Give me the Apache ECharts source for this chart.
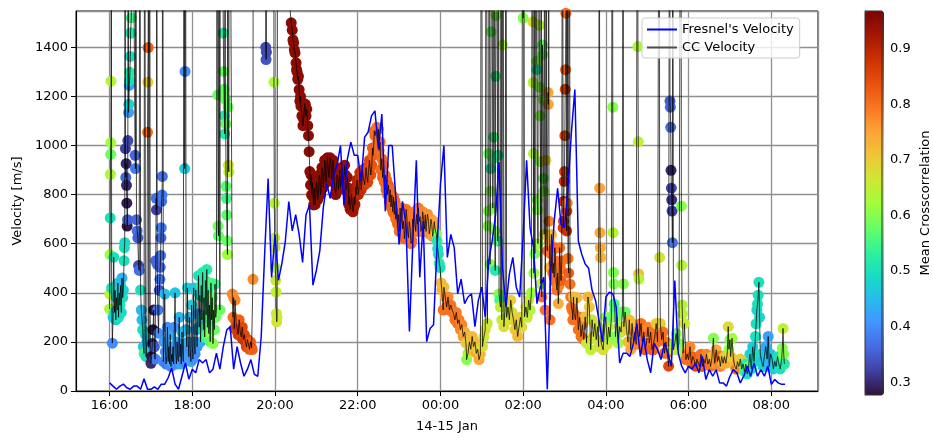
<!DOCTYPE html>
<html><head><meta charset="utf-8">
<script src="https://cdn.jsdelivr.net/npm/echarts@6/dist/echarts.min.js"></script>
<style>html,body{margin:0;padding:0;background:#fff}#c{width:933px;height:438px}</style>
</head><body><div id="c"></div>
<script>
// ---- tick labels ----
const xTickHours = [16,18,20,22,24,26,28,30,32];
const xTickLabels = ['16:00','18:00','20:00','22:00','00:00','02:00','04:00','06:00','08:00'];
const cbTicks = [0.3,0.4,0.5,0.6,0.7,0.8,0.9];

// ---- Fresnel's velocity, one value every 5 min from 16:00 ----
const fresnelStartMin = 0, fresnelStepMin = 5;
const fresnelVel = [
33,20,7,20,28,13,7,20,20,7,
50,7,7,17,7,28,28,54,94,28,
7,60,114,48,89,74,128,114,128,74,
89,154,89,181,249,262,89,181,114,60,
89,128,68,60,222,560,866,463,638,451,
520,611,772,652,718,638,524,718,758,431,
491,572,745,846,785,879,920,1000,758,946,
1014,960,960,854,1034,1054,1121,1141,987,1128,
732,1000,1000,799,597,773,678,242,611,940,
463,692,201,255,270,584,840,1000,544,638,
584,396,456,356,383,396,262,369,423,302,
530,611,718,933,503,342,477,544,423,383,
638,940,665,584,356,423,463,7,477,692,
826,678,665,826,1054,1228,611,557,517,500,
410,369,289,200,383,403,396,342,114,154,
154,141,195,275,141,222,128,74,195,168,
128,195,154,101,450,154,101,74,101,89,
114,74,141,47,87,60,87,33,33,20,
60,87,74,33,60,101,60,114,60,87,
60,101,27,47,33,27,27];

// ---- CC velocity: [minutes after 16:00, velocity, mean crosscorrelation] ----
const ccSeg1 = [
[0,334,.63],[0.3,395,.64],[0.6,556,.62],[0.9,705,.50],[1.2,883,.63],[1.5,964,.58],[1.8,1011,.62],[2.1,1262,.64],[2.4,3000,.60],
[3,420,.50],[4,195,.40],[5,300,.46],[6,545,.50],[7,320,.49],[8,410,.51],[9,290,.47],[10,380,.49],[11,330,.44],[12,440,.48],[13,300,.50],[14,400,.46],[15,350,.51],[16,430,.45],[17,320,.49],[18,460,.44],[19,380,.50],[20,410,.48],[21,531,.50],[21.5,584,.50],[22,604,.49],[22.5,3000,.50],
[23,987,.32],[23.5,870,.36],[24,926,.30],[24.5,838,.30],[25,765,.29],[25.5,672,.28],[26,698,.35],[26.5,1020,.33],[27,3000,.40],
[27.5,1135,.42],[28,1168,.48],[28.5,1245,.42],[29,1265,.50],[29.5,1298,.52],[30,1363,.50],[30.5,1458,.50],[31,1458,.52],[31.5,1520,.55],[32,3000,.50],
[37,960,.36],[37.5,906,.38],[38,3000,.40],[39,698,.36],[40,652,.37],[41,624,.35],[42,511,.33],[43,491,.37],[44,3000,.40],[45,411,.50],[46,330,.45],[47,290,.45],[48,250,.50],[49,181,.47],[50,153,.55],[51,3000,.50],
[52,230,.47],[53,140,.50],[54,200,.45],[55,1054,.80],[55.5,1258,.70],[56,1399,.82],[56.5,3000,.80],[57,180,.46],[58,3000,.50],
[59,150,.44],[60,113,.30],[61,141,.28],[62,193,.30],[63,250,.28],[64,330,.28],[65,180,.35],[66,130,.38],
[67,531,.36],[67.5,785,.37],[68,738,.32],[68.5,3000,.35],[69,516,.36],[70,330,.38],[71,235,.40],[72,410,.34],[73,455,.37],[73.5,504,.36],[74,552,.37],[74.5,624,.36],[75,665,.38],[75.5,773,.37],[76,798,.38],[76.5,874,.37],[77,3000,.36]];
const ccSeg2 = [
[78,120,.40],[79,200,.42],[80,395,.45],[81,160,.40],[82,110,.38],[83,140,.42],[84,260,.40],[85,120,.38],[86,180,.42],[87,110,.40],[88,230,.43],[89,100,.40],[90,150,.42],[91,120,.44],[92,180,.40],[93,110,.42],[94,260,.40],[95,400,.46],[96,150,.42],[97,110,.40],[98,200,.43],[99,130,.41],[100,120,.40],[101,300,.44],[102,140,.42],[103,190,.40],[104,110,.43],[105,240,.45],[106,160,.42],[107,120,.40],[108,3000,.42],
[109,906,.47],[109.5,1302,.40],[110,3000,.42],[111,250,.45],[112,180,.42],[113,420,.48],[114,200,.44],[115,140,.42],[116,300,.45],[117,170,.40],[118,120,.43],[119,350,.47],[120,180,.42],[121,130,.40],[122,420,.45],[123,200,.42],[124,150,.40],[125,411,.47],[126,250,.42],[127,180,.40]];
const ccSeg3 = [
[128,315,.42],[129,470,.50],[130,260,.45],[131,390,.48],[132,200,.43],[133,430,.52],[134,290,.48],[135,483,.52],[136,250,.50],[137,380,.53],[138,220,.55],[139,450,.52],[140,310,.55],[141,495,.52],[142,260,.56],[143,410,.54],[144,234,.60],[145,350,.55],[146,200,.57],[147,440,.56],[148,290,.55],[149,380,.58],[150,193,.60],[151,330,.57],[152,250,.58],[153,435,.55],[154,300,.58],[155,330,.60],
[156,3000,.55],[157,1206,.58],[157.5,672,.58],[158,632,.57],[158.5,3000,.58],[160,330,.58],[161,3000,.58],
[165,1458,.53],[165.5,1302,.58],[166,1229,.58],[166.5,1121,.52],[167,1047,.52],[167.5,3000,.55],[168,1188,.58],[168.5,1088,.58],[169,834,.57],[169.5,785,.55],[170,717,.57],[170.5,612,.58],[171,556,.62],[171.5,3000,.60],[172,1156,.58],[172.5,920,.67],[173,893,.65],[173.5,3000,.65]];
const ccSeg4 = [
[178,395,.78],[179,300,.80],[180,380,.77],[181,254,.85],[182,370,.78],[183.5,280,.84],[185,262,.88],[186.5,230,.87],[188,290,.82],[189.5,240,.88],[191,220,.86],[192.5,260,.85],[194,210,.87],[195.5,230,.85],[197,200,.88],[198.5,180,.86],[200,210,.85],[201.5,190,.84],[203,170,.83],[204.5,200,.82],[206,175,.85],[207,169,.82],[208,455,.77],[208.5,3000,.80],
[226,3000,.33],[226.5,1400,.33],[227,1350,.34],[227.5,1380,.33],[228,3000,.33],
[238,3000,.64],[238.5,1258,.63],[239,765,.64],[239.5,624,.65],[240,584,.66],[240.5,503,.64],[241,451,.66],[241.5,403,.65],[242,315,.66],[242.5,282,.67],[243,300,.66],[244,3000,.65]];
const ccSeg5 = [
[258,3000,.95],[262,1550,.95],[263.5,1500,.95],[265,1470,.95],[266,1430,.95],[267,1418,.95],[268,1390,.95],[269,1377,.95],[270.5,1337,.95],[271.2,1310,.95],[272,1300,.95],[273,1270,.95],[274,1282,.95],[275,1228,.95],[276,1181,.95],[277,1200,.95],[277.5,1161,.95],[279,1121,.95],[280.5,1081,.95],[281.2,1110,.95],[282,1120,.95],[283,1170,.95],[284,1168,.95],[285,1120,.95],[286,1148,.95],[287.5,1081,.95],[288.6,1040,.95],[289.5,975,.95],[290.5,894,.95],[291.5,839,.95],[292.3,880,.95],[293,799,.95],[294.5,850,.95],[295.2,790,.95],[296,758,.95],[296.8,810,.95],[297.5,826,.95],[298.2,760,.95],[299,780,.95],[300,850,.95],[301,840,.95],[302,780,.95],[303,800,.95],[304,880,.95],[305,870,.95],[306,800,.95],[307,830,.95],[308,910,.95],[309,900,.95],[310,830,.95],[311,860,.95],[312,940,.95],[313,920,.95],[314,850,.95],[315,890,.95],[316,950,.95],[317.6,946,.95],[318.3,870,.95],[319,900,.95],[320,950,.95],[321,930,.95],[322,860,.95],[323,880,.95],[324,940,.95],[325,920,.95],[326,850,.95],[327,854,.95],[328,800,.95],[329,830,.95],[330,880,.94],[331,870,.94],[332,820,.94],[333,850,.94],[334,900,.94],[334.5,879,.94],[335,830,.94],[336,840,.94],[337,910,.94],[338,906,.94],[339,850,.94],[340,870,.94],[341,920,.94],[342,880,.94],[343,820,.94],[344,830,.94],[345,870,.94],[346.5,826,.94],[347,760,.94],[348,790,.94],[349,740,.94],[350,758,.94],[351,800,.94],[352,770,.94],[353,730,.93],[354,745,.93],[355,790,.93],[356,760,.92],[357,830,.92],[358,800,.91],[359,860,.91],[360,854,.90],[361,800,.90],[362,830,.90],[363,890,.89],[364,866,.89],[365,820,.89],[366,850,.88],[367,900,.88],[368,870,.88],[370,840,.87],[371,866,.87],[372,910,.86],[373,880,.86],[374.5,850,.86],[375.6,894,.85],[377,940,.85],[378,910,.84],[379,880,.84],[380.5,920,.83],[381.3,990,.83],[382,960,.82],[383,987,.82],[384,1060,.81],[385,1040,.81],[386.5,1060,.80],[387.7,1074,.80],[388.8,1010,.80],[390,1067,.80],[391,980,.81],[392.5,1014,.81],[393.5,900,.81],[395,946,.81],[396,870,.82],[397.5,920,.82],[398.5,850,.81],[400,879,.81],[401,820,.81],[402,860,.81],[403.3,800,.82],[404.6,839,.82],[405.8,770,.81],[407,820,.81],[408.2,750,.81],[409.5,799,.81],[410.8,730,.81],[412,790,.81],[413,720,.81],[414,773,.81],[415.2,700,.80],[416.5,745,.80],[417.7,680,.81],[419,718,.81],[420.2,650,.80],[421.5,745,.80],[422.7,690,.80],[424,745,.80],[425.2,660,.80],[426.5,692,.80],[427.7,620,.81],[429,678,.81],[430.2,740,.80],[431.5,700,.80],[432.5,640,.80],[433.6,624,.80],[434.8,690,.80],[436,665,.80],[437.3,600,.80],[438.5,611,.80],[439.7,700,.79],[441,660,.79],[442,730,.79],[443,692,.79],[444.2,650,.79],[445.5,720,.79],[446.7,680,.79],[448,745,.79],[449.2,690,.79],[450.5,710,.79],[451.7,650,.78],[453,678,.79],[454.2,730,.78],[455.5,700,.78],[456.7,660,.78],[458,718,.78],[459,650,.78],[460,690,.78],[461.3,720,.77],[462.6,692,.77],[463.8,640,.77],[465,660,.77],[466.2,700,.76],[467.5,678,.76],[468.7,630,.76],[470,650,.76],[471,690,.75],[472,665,.74],[474,640,.60],[475,611,.52],[476,580,.50],[477,557,.50],[478.3,520,.52],[479.5,503,.50],[481,440,.72],[482,411,.73],[484,330,.80]];
const ccSeg6 = [
[485,423,.72],[487,383,.75],[489,342,.80],[491,383,.78],[493,330,.80],[495,350,.80],[497,330,.80],[499,315,.80],[501,290,.80],[503,320,.79],[505,275,.80],[507,290,.79],[509,250,.78],[511,270,.78],[513,222,.76],[515,240,.74],[517,195,.70],[518,128,.60],[520,154,.62],[522,200,.70],[524,170,.72],[526,222,.72],[528,181,.70],[530,200,.72],[532,154,.74],[534,170,.70],[536,128,.75],[538,150,.72],[539.5,3000,.70],[541,181,.68],[543,220,.66],[545,250,.68],[546.5,3000,.66],[548,275,.66]];
const ccSeg7 = [
[549,672,.60],[549.5,733,.60],[550,967,.58],[550.5,3000,.58],
[552,516,.60],[552.5,814,.60],[553,906,.52],[553.5,1463,.58],[554,3000,.58],
[556,745,.60],[556.5,947,.56],[557,1034,.55],[557.5,3000,.55],
[559,652,.60],[559.5,491,.52],[560,1282,.55],[560.5,1530,.60],[561,3000,.60],
[563,611,.55],[563.5,960,.52],[564,3000,.55],
[565,395,.60],[566,370,.55],[567,342,.65],[568,3000,.62],
[569,290,.66],[570,1410,.63],[570.5,3000,.63],
[572,262,.68],[574,342,.66],[575,3000,.64],
[576,300,.65],[578,342,.65],[580,290,.67],[582,370,.70],[584,320,.68],[586,290,.68],[588,250,.70],[590,290,.70],[592,222,.72],[594,260,.70],[596,300,.70],[598,260,.68],
[599.5,3000,.60],[600,1519,.60],[600.5,3000,.60],
[602,302,.68],[604,342,.68],[606,300,.66],[608,370,.66],[610,330,.64],[612,400,.62],
[613.5,3000,.66],[614,1504,.68],[614.5,1256,.64],[615,967,.64],[615.5,480,.62],[616,3000,.62],
[617,560,.60],[619,3000,.58],[619.5,1343,.60],[620,1309,.53],[620.5,779,.60],[621,738,.60],[621.5,600,.62],[622,3000,.60],
[623.5,1490,.64],[624,1237,.60],[624.5,1121,.60],[625,934,.60],[625.5,436,.64],[626,3000,.62],
[627,383,.80],[628,1410,.58],[628.5,1370,.58],[629,1188,.60],[629.5,866,.58],[630,814,.60],[630.5,638,.64],[631,3000,.62],
[632,330,.80],[633,940,.70],[633.5,3000,.70],
[634,638,.70],[635,571,.80],[636,1216,.75],[636.5,1168,.75],[637,3000,.75],[637.5,692,.78],[638,611,.74],[638.5,503,.73],[639,290,.80]];
const ccSeg8 = [
[640,560,.80],[641,638,.72],[642,571,.80],[643,480,.80],[644,520,.78],[645,463,.80],[646,584,.82],[647,530,.80],[648,440,.80],[649,411,.80],[650,480,.78],[651,356,.74],[652,430,.78],[653,584,.80],[654,500,.80],[655,450,.82],[656,530,.80],[657,3000,.80],
[658,665,.86],[658.5,692,.86],[659,773,.88],[659.5,854,.88],[660,894,.86],[660.5,1040,.85],[661,1229,.85],[661.5,1309,.82],[662,1539,.80],[662.5,3000,.80],
[663,652,.88],[663.5,733,.86],[664,765,.78],[664.5,3000,.80],
[665,540,.80],[666,480,.82],[667,3000,.80],
[668,435,.80],[669,383,.80],[670,342,.80],[671,330,.80],[672,290,.80],[673,383,.72],
[674,315,.80],[676,290,.80],[678,380,.72],[680,250,.80],[682,300,.80],[684,222,.80],[686,270,.78],[688,209,.80],[690,302,.72],[692,195,.66],[694,383,.73],[696,342,.70],[698,168,.65],[700,290,.66],[702,222,.68],[704,275,.68],[706,209,.66],[708,262,.66],[709.5,181,.66],
[710.5,3000,.74],[711,826,.75],[711.5,645,.74],[712,584,.74],[712.5,544,.73],[713,200,.68]];
const ccSeg9 = [
[716,168,.68],[718,250,.66],[720,302,.62],[722,190,.66],[724,260,.64],[726,220,.62],[728,300,.58],
[729.5,3000,.60],[730,1156,.60],[730.5,645,.64],[731,483,.60],[731.5,436,.60],[732,354,.55],[733,330,.55],[734,222,.60],[736,302,.60],[738,195,.62],[740,262,.62],[742,240,.64],[744,322,.58],
[745,3000,.60],[745.5,436,.60],[746,262,.66],[748,322,.58],[750,250,.70],[752,200,.72],[754,290,.72],[756,169,.75],[758,275,.72],[760,200,.75],[762,240,.76],[764,190,.78],
[766,3000,.65],[766.5,1403,.63],[767,1015,.65],[767.5,477,.72],[768,456,.64],[769,222,.80],[771,275,.80],[773,195,.80],[775,240,.80],[777,168,.82],[779,195,.80],[781,260,.78],[783,195,.80],[785,240,.80],[787,168,.82],[789,168,.82],[791,220,.80],[793,275,.70],[795,200,.80],
[797.5,3000,.67],[798,544,.67],[799,275,.70],[801,209,.80],[803,240,.80],[805,154,.82],[807,200,.80],[809,154,.80],[811,101,.85],[812.5,3000,.35],
[813,1181,.35],[813.5,1156,.36],[814,1074,.37],[814.5,899,.30],[815,826,.33],[815.5,779,.31],[816,733,.32],[816.5,604,.37],[817,3000,.35],
[818,168,.64],[820,195,.62],[822,234,.60],[824,168,.66],[826,195,.60],
[829,3000,.60],[829.5,753,.60],[830,512,.64],[830.5,350,.64],[831,315,.64],[832,154,.62],[834,275,.66],[836,128,.80],[838,150,.80],[840,128,.80],[842,180,.78]];
const ccSeg10 = [
[844,113,.80],[846,140,.82],[848,128,.80],[850,101,.85],[852,130,.82],[854,113,.80],[856,101,.85],[858,150,.80],[860,100,.82],[862,130,.80],[864,113,.80],[866,150,.78],[868,110,.80],[870,130,.78],[872,100,.80],[874,140,.72],[876,215,.60],[877,140,.72],[878,113,.76],[880,168,.74],[882,120,.78],[884,141,.80],[886,100,.78],[888,141,.80],[890,113,.72],[892,140,.70],[894,113,.74],[896,150,.70],[897.5,262,.68],[898.5,170,.62],[900,209,.60],[901,140,.70],[903,215,.62],[905,130,.70],[907,100,.72],[909,89,.80],[911,120,.75],[913,100,.72],[915,130,.70],[917,89,.78],[919,110,.68],[921,80,.55],[923,110,.52],[925,70,.50],[927,100,.58],
[929,150,.48],[931,90,.50],[933,180,.47],[935,120,.50],[937,222,.50],[938,274,.50],[939,330,.48],[940,354,.50],[941,390,.50],[942,443,.50],[943,300,.48],[944,150,.50],[946,120,.47],[948,100,.48],[950,140,.45],[952,181,.43],[954,130,.45],[955.5,222,.42],[957,100,.44],[959,150,.46],[961,133,.42],[963,90,.47],[965,120,.45],[967,100,.48],[969,140,.50],[971,110,.47],[973,90,.50],[975,128,.55],[976,174,.60],[977,255,.65],[978,150,.60],[979,110,.52]];

const turbo = ['#30123b','#4040a2','#466be3','#4294ff','#28bceb','#18ddc2','#32f298','#68fe63','#a4fc3c','#d0e736','#eec539','#fda237','#fa7521','#e84f0d','#cc3003','#a31701','#7a0403'];

const FONT = 'DejaVu Sans';
const toHour = m => 16 + m / 60;
const ccAll = [].concat(ccSeg1, ccSeg2, ccSeg3, ccSeg4, ccSeg5, ccSeg6, ccSeg7, ccSeg8, ccSeg9, ccSeg10);
const ccLine = ccAll.map(r => [toHour(r[0]), r[1]]);
const ccDots = ccAll.map(r => [toHour(r[0]), r[1], r[2]]);
const fresnelLine = fresnelVel.map((v, i) => [toHour(fresnelStartMin + i * fresnelStepMin), v]);

const gridLine = {show: true, lineStyle: {color: '#8f8f8f', width: 1.3}};
const chart = echarts.init(document.getElementById('c'), null, {renderer: 'canvas'});
chart.setOption({
  animation: false,
  backgroundColor: '#fff',
  textStyle: {fontFamily: FONT},
  grid: [
    {left: 76, right: 115, top: 11, bottom: 43, show: true, borderColor: '#000', borderWidth: 1, backgroundColor: 'transparent'},
    {left: 865, top: 11, width: 19, height: 384, show: true, borderColor: '#333', borderWidth: 1, backgroundColor: 'transparent', z: 10}
  ],
  xAxis: [
    {type: 'value', gridIndex: 0, min: 15.188, max: 33.129, splitNumber: 9,
     name: '14-15 Jan', nameLocation: 'middle', nameGap: 29,
     nameTextStyle: {fontSize: 13, color: '#000', fontFamily: FONT},
     axisLine: {show: true, onZero: false, lineStyle: {color: '#000'}},
     axisTick: {show: true, length: 5, lineStyle: {color: '#000'}},
     axisLabel: {fontSize: 13, color: '#000', margin: 8, fontFamily: FONT, showMinLabel: false, showMaxLabel: false,
       formatter: v => { const i = xTickHours.findIndex(h => Math.abs(h - v) < 1e-6); return i >= 0 ? xTickLabels[i] : ''; }},
     splitLine: gridLine},
    {type: 'value', gridIndex: 1, show: false, min: 0, max: 1}
  ],
  yAxis: [
    {type: 'value', gridIndex: 0, min: 0, max: 1548, interval: 200,
     name: 'Velocity [m/s]', nameLocation: 'middle', nameGap: 50,
     nameTextStyle: {fontSize: 13, color: '#000', fontFamily: FONT},
     axisLine: {show: true, onZero: false, lineStyle: {color: '#000'}},
     axisTick: {show: true, length: 5, lineStyle: {color: '#000'}},
     axisLabel: {fontSize: 13, color: '#000', margin: 8, fontFamily: FONT, showMaxLabel: false,
       formatter: v => (Math.abs(v % 200) < 1e-6 ? String(v) : '')},
     splitLine: gridLine},
    {type: 'value', gridIndex: 1, position: 'right', min: 0.277, max: 0.968, splitNumber: 7,
     name: 'Mean Crosscorrelation', nameLocation: 'middle', nameGap: 37,
     nameTextStyle: {fontSize: 13, color: '#000', fontFamily: FONT},
     axisLine: {show: true, lineStyle: {color: '#333'}},
     axisTick: {show: true, length: 4, lineStyle: {color: '#000'}},
     axisLabel: {fontSize: 13, color: '#000', margin: 8, fontFamily: FONT, showMinLabel: false, showMaxLabel: false,
       formatter: v => { const k = cbTicks.findIndex(t => Math.abs(t - v) < 1e-6); return k >= 0 ? cbTicks[k].toFixed(1) : ''; }},
     splitLine: {show: false}}
  ],
  visualMap: {type: 'continuous', min: 0.277, max: 0.968, dimension: 2, seriesIndex: 0,
    left: 865, top: 11, itemWidth: 19, itemHeight: 384, padding: 0, calculable: false, text: null,
    hoverLink: false, inRange: {color: turbo}},
  legend: {orient: 'vertical', left: 642, top: 18, padding: [5, 6, 4, 5], itemGap: 5, itemWidth: 30, itemHeight: 2,
    backgroundColor: 'rgba(255,255,255,0.8)', borderColor: '#cccccc', borderWidth: 1, borderRadius: 3,
    textStyle: {fontSize: 13, color: '#000', fontFamily: FONT},
    data: [{name: "Fresnel's Velocity", icon: 'rect', itemStyle: {color: '#0000ff'}},
           {name: 'CC Velocity', icon: 'rect', itemStyle: {color: '#4d4d4d'}}]},
  series: [
    {name: 'ccDots', type: 'scatter', xAxisIndex: 0, yAxisIndex: 0, data: ccDots, symbolSize: 11, clip: true, z: 2,
     itemStyle: {opacity: 1}},
    {name: 'CC Velocity', type: 'line', xAxisIndex: 0, yAxisIndex: 0, data: ccLine, showSymbol: false, clip: true, z: 3,
     lineStyle: {color: 'rgba(0,0,0,0.8)', width: 0.9}, itemStyle: {color: '#4d4d4d'}},
    {name: "Fresnel's Velocity", type: 'line', xAxisIndex: 0, yAxisIndex: 0, data: fresnelLine, showSymbol: false, clip: true, z: 4,
     lineStyle: {color: '#0000ff', width: 1.5}, itemStyle: {color: '#0000ff'}}
  ]
});
</script></body></html>
